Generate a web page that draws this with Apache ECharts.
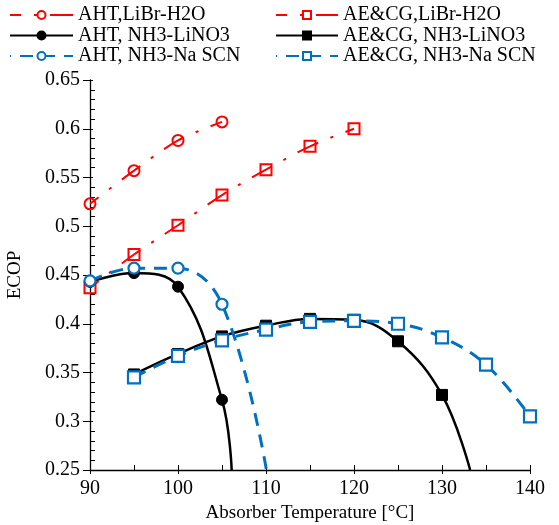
<!DOCTYPE html>
<html>
<head>
<meta charset="utf-8">
<script src="https://cdn.jsdelivr.net/npm/echarts@6/dist/echarts.min.js"></script>
<style>
  html, body { margin: 0; padding: 0; background: #fff; }
  #chart { width: 559px; height: 525px; }
</style>
</head>
<body>
<div id="chart"></div>
<script>
// Absorber temperatures (°C)
const tAHT = [90, 95, 100, 105];
const tAELiBr = [90, 95, 100, 105, 110, 115, 120];
const tAENH3 = [95, 100, 105, 110, 115, 120, 125, 130, 135, 140];

// ECOP values
const ahtLiBr = [0.523, 0.557, 0.588, 0.607];
const aeLiBr = [0.437, 0.471, 0.501, 0.532, 0.558, 0.582, 0.600];
const ahtLiNO3 = [0.443, 0.452, 0.438, 0.322];
const aeLiNO3 = [0.348, 0.369, 0.387, 0.398, 0.405, 0.404, 0.382, 0.327];
const ahtNaSCN = [0.444, 0.457, 0.457, 0.420];
const aeNaSCN = [0.345, 0.367, 0.383, 0.394, 0.402, 0.403, 0.400, 0.386, 0.358, 0.305];

// where the curves run out of the plot (bottom edge, no marker)
const ahtLiNO3End = [106.1, 0.25];
const aeLiNO3End = [133.2, 0.25];
const ahtNaSCNEnd = [110.05, 0.25];

const serif = 'Liberation Serif';

function pairs(xs, ys, end) {
    let d = ys.map((y, i) => [xs[i], y]);
    if (end) d.push({ value: end, symbol: 'none' });
    return d;
}

let chart = echarts.init(document.getElementById('chart'));

let legendText = { fontFamily: serif, fontSize: 20, color: '#000', lineHeight: 19 };

let option = {
    animation: false,
    backgroundColor: '#fff',
    grid: { left: 90, right: 29, top: 80, bottom: 55, outerBoundsMode: 'none' },
    legend: [
        {
            left: 9, top: 5, orient: 'vertical', padding: 0,
            itemWidth: 63, itemHeight: 10, itemGap: 0.5,
            textStyle: legendText,
            data: ['AHT,LiBr-H2O', 'AHT, NH3-LiNO3', 'AHT, NH3-Na SCN']
        },
        {
            left: 275, top: 5, orient: 'vertical', padding: 0,
            itemWidth: 62, itemHeight: 10, itemGap: 0.5,
            textStyle: legendText,
            data: ['AE&CG,LiBr-H2O', 'AE&CG, NH3-LiNO3', 'AE&CG, NH3-Na SCN']
        }
    ],
    xAxis: [
        {
            type: 'value', min: 90, max: 140, interval: 10, position: 'bottom',
            name: 'Absorber Temperature [°C]', nameLocation: 'middle', nameGap: 33,
            nameTextStyle: { fontFamily: serif, fontSize: 19, color: '#000' },
            axisLine: { lineStyle: { color: '#000', width: 1.3 } },
            axisTick: { show: true, inside: false, length: 4, lineStyle: { color: '#000' } },
            axisLabel: { fontFamily: serif, fontSize: 20, color: '#000', margin: 9 },
            splitLine: { show: false }
        },
        {
            type: 'value', min: 90, max: 140, interval: 10, position: 'bottom',
            axisLine: { show: false },
            axisTick: { show: true, inside: true, length: 5, lineStyle: { color: '#000' } },
            minorTick: { show: true, splitNumber: 2, length: 5, lineStyle: { color: '#000' } },
            axisLabel: { show: false },
            splitLine: { show: false }
        }
    ],
    yAxis: [
        {
            type: 'value', min: 0.25, max: 0.65, interval: 0.05, position: 'left',
            name: 'ECOP', nameLocation: 'middle', nameGap: 65,
            nameTextStyle: { fontFamily: serif, fontSize: 19, color: '#000' },
            axisLine: { show: true, lineStyle: { color: '#000', width: 1.3 } },
            axisTick: { show: true, inside: false, length: 7, lineStyle: { color: '#000' } },
            axisLabel: { fontFamily: serif, fontSize: 20, color: '#000', margin: 10 },
            splitLine: { show: false }
        },
        {
            type: 'value', min: 0.25, max: 0.65, interval: 0.05, position: 'left',
            axisLine: { show: false },
            axisTick: { show: true, inside: true, length: 3, lineStyle: { color: '#000' } },
            minorTick: { show: true, splitNumber: 5, length: 5, lineStyle: { color: '#000' } },
            axisLabel: { show: false },
            splitLine: { show: false }
        }
    ],
    series: [
        {
            name: 'AHT,LiBr-H2O', type: 'line', smooth: 0.3,
            data: pairs(tAHT, ahtLiBr),
            symbol: 'circle', symbolSize: 11,
            itemStyle: { color: 'rgba(255,255,255,0)', borderColor: '#ff0000', borderWidth: 2 },
            lineStyle: { color: '#ff0000', width: 2, type: [23, 13, 3, 13], dashOffset: 12 }
        },
        {
            name: 'AE&CG,LiBr-H2O', type: 'line', smooth: 0.3,
            data: pairs(tAELiBr, aeLiBr),
            symbol: 'rect', symbolSize: 11,
            itemStyle: { color: 'rgba(255,255,255,0)', borderColor: '#ff0000', borderWidth: 2 },
            lineStyle: { color: '#ff0000', width: 2, type: [23, 13, 3, 13], dashOffset: 12 }
        },
        {
            name: 'AHT, NH3-LiNO3', type: 'line', smooth: 0.4,
            data: pairs(tAHT, ahtLiNO3, ahtLiNO3End),
            symbol: 'circle', symbolSize: 11,
            itemStyle: { color: '#000', borderColor: '#000', borderWidth: 1 },
            lineStyle: { color: '#000', width: 2.5 }
        },
        {
            name: 'AE&CG, NH3-LiNO3', type: 'line', smooth: 0.4,
            data: pairs(tAENH3, aeLiNO3, aeLiNO3End),
            symbol: 'rect', symbolSize: 11,
            itemStyle: { color: '#000', borderColor: '#000', borderWidth: 1 },
            lineStyle: { color: '#000', width: 2.5 }
        },
        {
            name: 'AHT, NH3-Na SCN', type: 'line', smooth: 0.4,
            data: pairs(tAHT, ahtNaSCN, ahtNaSCNEnd),
            symbol: 'circle', symbolSize: 11,
            itemStyle: { color: '#fff', borderColor: '#0070c0', borderWidth: 2.2 },
            lineStyle: { color: '#0070c0', width: 3, type: [13, 9] }
        },
        {
            name: 'AE&CG, NH3-Na SCN', type: 'line', smooth: 0.4,
            data: pairs(tAENH3, aeNaSCN),
            symbol: 'rect', symbolSize: 12,
            itemStyle: { color: '#fff', borderColor: '#0070c0', borderWidth: 2.2 },
            lineStyle: { color: '#0070c0', width: 3, type: [13, 9] }
        }
    ]
};

chart.setOption(option);
</script>
</body>
</html>
